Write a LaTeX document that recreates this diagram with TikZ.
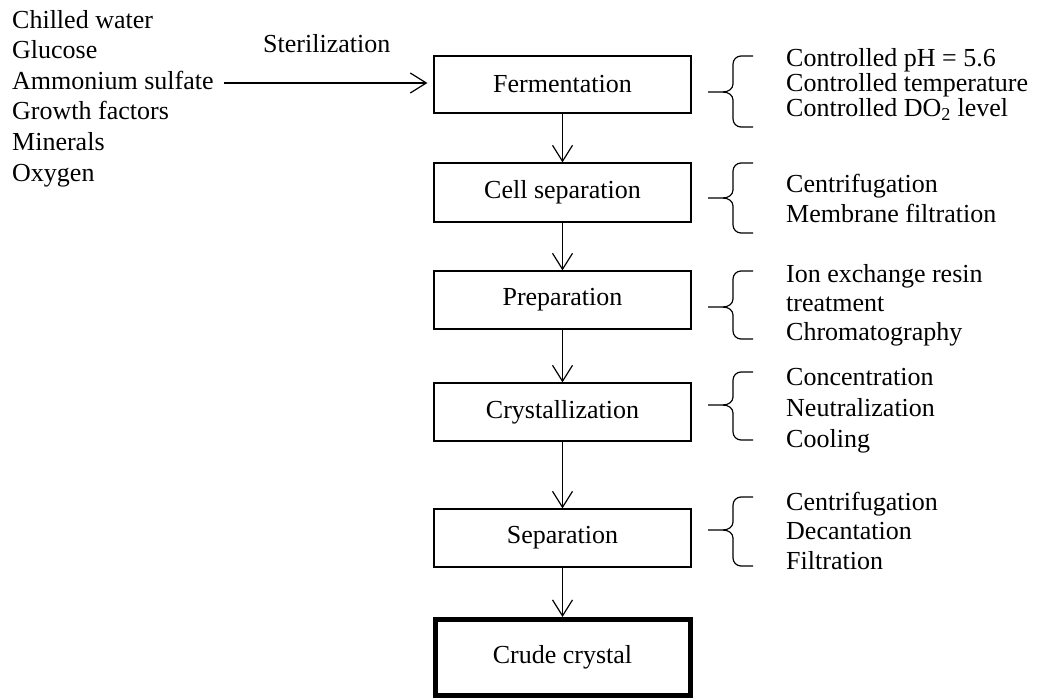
\documentclass[tikz,border=0pt]{standalone}
\usepackage{fontspec}
\setmainfont{Liberation Serif}
\usetikzlibrary{arrows.meta}
\begin{document}
\begin{tikzpicture}[x=1pt,y=-1pt,
  every node/.style={font=\fontsize{26}{28}\selectfont},
  stepbox/.style={draw, line width=1.2pt, minimum width=257pt, minimum height=58pt, inner sep=0pt},
  finalbox/.style={draw, line width=5pt, minimum width=255pt, minimum height=76pt, inner sep=0pt},
  lbl/.style={anchor=base west, inner sep=0pt},
  flow/.style={line width=1.2pt, -{Straight Barb[length=16pt,width=20pt,line width=1.2pt]}},
  brace/.style={line width=1.2pt}]
\useasboundingbox (0,0) rectangle (1040,698);

% boxes
\node[stepbox, minimum height=57pt] (ferm) at (562.5,84.5) {Fermentation};
\node[stepbox, minimum height=59pt] (cell) at (562.5,192.5) {Cell separation};
\node[stepbox] (prep) at (562.5,300) {Preparation};
\node[stepbox] (cryst) at (562.5,412) {Crystallization};
\node[stepbox] (sep) at (562.5,538) {Separation};
\node[finalbox] (crude) at (562.5,657.5) {Crude crystal};

% vertical arrows
\draw[flow] (ferm) -- (cell);
\draw[flow] (cell) -- (prep);
\draw[flow] (prep) -- (cryst);
\draw[flow] (cryst) -- (sep);
\draw[flow] (sep) -- (crude);

% input list
\node[lbl] (in1) at (12,29) {Chilled water};
\node[lbl] (in2) at (12,58.5) {Glucose};
\node[lbl] (in3) at (12,89.5) {Ammonium sulfate};
\node[lbl] (in4) at (12,120) {Growth factors};
\node[lbl] (in5) at (12,150) {Minerals};
\node[lbl] (in6) at (12,181) {Oxygen};
\node[lbl] (ster) at (263,53) {Sterilization};
\coordinate (instart) at (224,83);
\draw[flow] (instart) -- ([xshift=-6pt]ferm.west |- instart);

% right-hand lists
\node[lbl] (f1) at (786,67) {Controlled pH = 5.6};
\node[lbl] (f2) at (786,92) {Controlled temperature};
\node[lbl] (f3) at (786,117) {Controlled DO\textsubscript{2} level};

\node[lbl] (c1) at (786,192) {Centrifugation};
\node[lbl] (c2) at (786,222) {Membrane filtration};

\node[lbl] (p1) at (786,282) {Ion exchange resin};
\node[lbl] (p2) at (786,311) {treatment};
\node[lbl] (p3) at (786,340) {Chromatography};

\node[lbl] (k1) at (786,385) {Concentration};
\node[lbl] (k2) at (786,416) {Neutralization};
\node[lbl] (k3) at (786,447) {Cooling};

\node[lbl] (s1) at (786,510) {Centrifugation};
\node[lbl] (s2) at (786,539) {Decantation};
\node[lbl] (s3) at (786,569) {Filtration};

% braces
\foreach \T/\M/\B in {56/92/127, 163/198/233, 271/307/339, 372/405/440, 497/530/566}{
  \draw[brace] (753,\T) -- (741,\T) to[out=180,in=90] (733,\T+8)
     -- (733,\M-8) to[out=-90,in=0] (723,\M) -- (708,\M);
  \draw[brace] (753,\B) -- (741,\B) to[out=180,in=-90] (733,\B-8)
     -- (733,\M+8) to[out=90,in=0] (723,\M);
}
\end{tikzpicture}
\end{document}
